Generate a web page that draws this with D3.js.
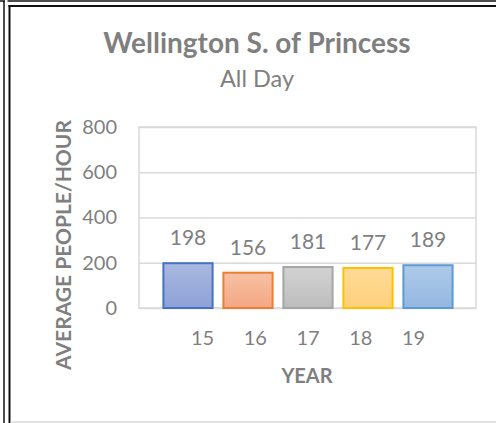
<!DOCTYPE html>
<html>
<head>
<meta charset="utf-8">
<script src="https://cdn.jsdelivr.net/npm/d3@7"></script>
<style>
  html, body { margin: 0; padding: 0; background: #fff; overflow: hidden; }
  svg { display: block; }
  text { font-family: Lato, "Open Sans", sans-serif; fill: #7f7f7f; }
</style>
</head>
<body>
<div id="chart"></div>
<script>

// data
const years = ["15", "16", "17", "18", "19"];
const averages = [198, 156, 181, 177, 189];
const yTicks = [0, 200, 400, 600, 800];
const strokeColors = ["#4472c4", "#ed7d31", "#a5a5a5", "#ffc000", "#5b9bd5"];
const topColors = ["#aab9e1", "#f7c1a3", "#d2d2d2", "#ffdb98", "#aecae9"];
const bottomColors = ["#8ea1d6", "#f4a784", "#bdbdbd", "#ffd07c", "#94b7e1"];

const W = 496, H = 423;
const plot = { left: 139, right: 476, top: 127, bottom: 308 };

const svg = d3.select("#chart")
		.append("svg")
		.attr("width", W)
		.attr("height", H);

// frame lines (cropped cell border)
const frame = svg.append("g").attr("class", "frame");
frame.append("line").attr("x1", 0).attr("x2", 5).attr("y1", 1).attr("y2", 1)
		.attr("stroke", "#111").attr("stroke-width", 1.5);
frame.append("line").attr("x1", 7.5).attr("x2", W).attr("y1", 1).attr("y2", 1)
		.attr("stroke", "#111").attr("stroke-width", 1.5);
frame.append("line").attr("x1", 4).attr("x2", 4).attr("y1", 1).attr("y2", H)
		.attr("stroke", "#111").attr("stroke-width", 1.5);
frame.append("line").attr("x1", 9.5).attr("x2", 9.5).attr("y1", 5).attr("y2", H)
		.attr("stroke", "#111").attr("stroke-width", 2);
frame.append("line").attr("x1", 8.5).attr("x2", W).attr("y1", 6).attr("y2", 6)
		.attr("stroke", "#111").attr("stroke-width", 2);
frame.append("line").attr("x1", 10.5).attr("x2", W).attr("y1", 422).attr("y2", 422)
		.attr("stroke", "#d9d9d9").attr("stroke-width", 1.5);

// gradients
const defs = svg.append("defs");
years.forEach(function(d, i){
	const g = defs.append("linearGradient")
			.attr("id", "grad" + i)
			.attr("x1", 0).attr("y1", 0)
			.attr("x2", 0).attr("y2", 1);
	g.append("stop").attr("offset", "0%").attr("stop-color", topColors[i]);
	g.append("stop").attr("offset", "100%").attr("stop-color", bottomColors[i]);
});

// scales
const y = d3.scaleLinear()
		.domain([0, 800])
		.range([plot.bottom, plot.top]);

const x = d3.scaleBand()
		.domain(years)
		.range([158, 458])
		.paddingInner(0.18)
		.paddingOuter(0.09);

// category labels sit a little off the bars, as in the original
const xLabel = d3.scalePoint()
		.domain(years)
		.range([202, 413]);

// gridlines
svg.append("g")
		.attr("class", "grid")
		.attr("transform", "translate(" + plot.left + ",0)")
		.call(d3.axisLeft(y).tickValues(yTicks).tickSize(-(plot.right - plot.left)).tickFormat(""))
		.call(function(g){ g.select(".domain").remove(); })
		.selectAll("line")
			.attr("stroke", "#d9d9d9")
			.attr("stroke-width", 1.5);

// plot area border
svg.append("rect")
		.attr("x", plot.left)
		.attr("y", plot.top)
		.attr("width", plot.right - plot.left)
		.attr("height", plot.bottom - plot.top)
		.attr("fill", "none")
		.attr("stroke", "#d9d9d9")
		.attr("stroke-width", 1.5);

// y axis labels
svg.append("g")
		.attr("transform", "translate(" + plot.left + ",0)")
		.call(d3.axisLeft(y).tickValues(yTicks).tickSize(0).tickPadding(22))
		.call(function(g){ g.select(".domain").remove(); })
		.selectAll("text")
			.attr("font-size", 20)
			.attr("font-family", null)
			.attr("fill", "#7f7f7f");

// x axis labels
svg.append("g")
		.attr("transform", "translate(0," + plot.bottom + ")")
		.call(d3.axisBottom(xLabel).tickSize(0).tickPadding(23))
		.call(function(g){ g.select(".domain").remove(); })
		.selectAll("text")
			.attr("font-size", 20)
			.attr("font-family", null)
			.attr("fill", "#7f7f7f");

// bars
svg.append("g")
		.attr("class", "bars")
	.selectAll("rect")
	.data(averages)
	.join("rect")
		.attr("x", function(d, i){ return x(years[i]); })
		.attr("y", function(d){ return y(d); })
		.attr("width", x.bandwidth())
		.attr("height", function(d){ return y(0) - y(d); })
		.attr("fill", function(d, i){ return "url(#grad" + i + ")"; })
		.attr("stroke", function(d, i){ return strokeColors[i]; })
		.attr("stroke-width", 2);

// data labels
svg.append("g")
		.attr("class", "labels")
	.selectAll("text")
	.data(averages)
	.join("text")
		.attr("x", function(d, i){ return x(years[i]) + x.bandwidth() / 2; })
		.attr("y", function(d){ return y(d) - 18; })
		.attr("text-anchor", "middle")
		.attr("font-size", 21)
		.text(function(d){ return d; });

// titles
svg.append("text")
		.attr("x", 257)
		.attr("y", 53)
		.attr("text-anchor", "middle")
		.attr("font-size", 28)
		.attr("font-weight", "bold")
		.attr("fill", "#767676")
		.text("Wellington S. of Princess");

svg.append("text")
		.attr("x", 257)
		.attr("y", 87)
		.attr("text-anchor", "middle")
		.attr("font-size", 23.5)
		.text("All Day");

svg.append("text")
		.attr("x", 307)
		.attr("y", 383)
		.attr("text-anchor", "middle")
		.attr("font-size", 20)
		.attr("font-weight", "bold")
		.text("YEAR");

svg.append("text")
		.attr("transform", "translate(71,245) rotate(-90)")
		.attr("text-anchor", "middle")
		.attr("font-size", 21)
		.attr("font-weight", "bold")
		.text("AVERAGE PEOPLE/HOUR");

</script>
</body>
</html>
